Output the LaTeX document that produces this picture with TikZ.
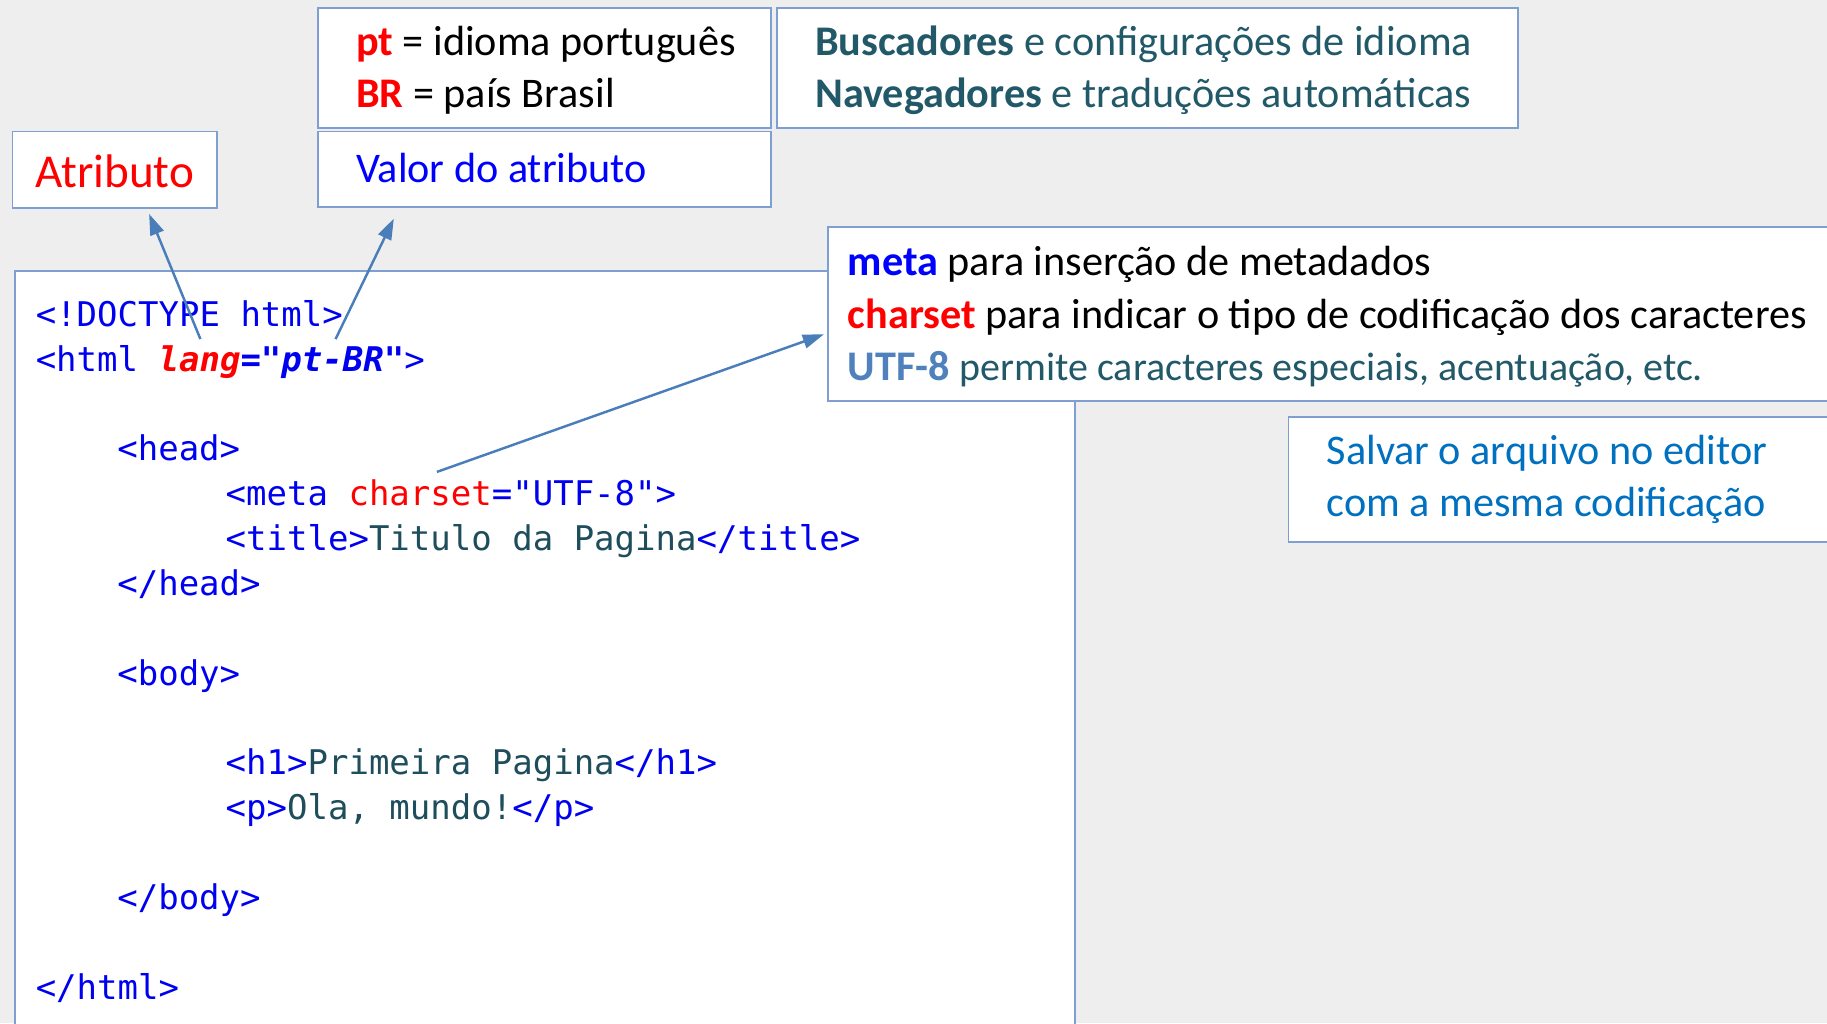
\documentclass[tikz,border=0pt]{standalone}
\usepackage{fontspec}
\setmainfont{Carlito}
\setmonofont{DejaVu Sans Mono}
\usetikzlibrary{arrows.meta}
\usetikzlibrary{calc}
\definecolor{bgcol}{HTML}{EEEEEE}
\definecolor{boxline}{HTML}{7F9FD3}
\definecolor{arrowcol}{HTML}{4A7EBB}
\definecolor{teal}{HTML}{215968}
\definecolor{codeblue}{HTML}{0000F0}
\definecolor{codetext}{HTML}{1E4D5C}
\definecolor{utfblue}{HTML}{4F81BD}
\definecolor{salvarblue}{HTML}{0070C0}
\tikzset{
box/.style={draw=boxline, line width=0.45pt, fill=white, inner sep=0pt, anchor=north west},
note/.style={anchor=west, align=left, inner sep=0pt, font=\fontsize{10.3}{12.8}\selectfont},
code/.style={anchor=base west, inner sep=0pt, text=codeblue, font=\ttfamily\fontsize{8.3}{10}\selectfont},
pointer/.style={draw=arrowcol, line width=0.6pt, -{Triangle[length=0.18cm,width=0.12cm]}}}

\begin{document}
\begin{tikzpicture}[x=0.01cm, y=-0.01cm]

            \useasboundingbox[fill=bgcol] (0,0) rectangle (1568,878);

            % code window
            \node[box, minimum width=9.09cm, minimum height=7cm] (code) at (12,232) {};
            \node[code] (doctype) at (30,280) {<!DOCTYPE html>};
            \node[code] (html) at (30,318.5) {<html \textbf{\textit{\textcolor{red}{lang}="pt-BR"}}>};
            \node[code] (head) at (100,395.5) {<head>};
            \node[code] (meta) at (193,434) {<meta \textcolor{red}{charset}="UTF-8">};
            \node[code] (title) at (193,472.5) {<title>\textcolor{codetext}{Titulo da Pagina}</title>};
            \node[code] (headend) at (100,511) {</head>};
            \node[code] (body) at (100,588) {<body>};
            \node[code] (hone) at (193,665) {<h1>\textcolor{codetext}{Primeira Pagina}</h1>};
            \node[code] (para) at (193,703.5) {<p>\textcolor{codetext}{Ola, mundo!}</p>};
            \node[code] (bodyend) at (100,780.5) {</body>};
            \node[code] (htmlend) at (30,857.5) {</html>};

            % callouts
            \node[box, minimum width=1.75cm, minimum height=0.66cm] (atrib) at (10,112) {};
            \node[note, anchor=center, text=red, font=\fontsize{11.5}{13}\selectfont] (atribtxt) at ($(atrib.center)+(0,1)$) {Atributo};

            \node[box, minimum width=3.89cm, minimum height=0.65cm] (valor) at (272,112) {};
            \node[note, text=blue] (valortxt) at ($(valor.west)+(33,-1)$) {Valor do atributo};

            \node[box, minimum width=3.89cm, minimum height=1.03cm] (lang) at (272,6) {};
            \node[note] (langtxt) at ($(lang.west)+(33,2)$) {\textcolor{red}{\textbf{pt}} = idioma português\\\textcolor{red}{\textbf{BR}} = país Brasil};

            \node[box, minimum width=6.36cm, minimum height=1.03cm] (uses) at (666,6) {};
            \node[note, text=teal] (usestxt) at ($(uses.west)+(33,2)$) {\textbf{Buscadores} e configurações de idioma\\\textbf{Navegadores} e traduções automáticas};

            \node[box, minimum width=8.8cm, minimum height=1.49cm] (metabox) at (710,194) {};
            \node[note] (metatxt) at ($(metabox.west)+(17,2.5)$) {\textcolor{blue}{\textbf{meta}} para inserção de metadados\\\textcolor{red}{\textbf{charset}} para indicar o tipo de codificação dos caracteres\\\textcolor{utfblue}{\textbf{UTF-8}} \textcolor{teal}{\fontsize{9.75}{12.8}\selectfont permite caracteres especiais, acentuação, etc.}};

            \node[box, minimum width=4.8cm, minimum height=1.07cm] (salvar) at (1105,357) {};
            \node[note, text=salvarblue] (salvartxt) at ($(salvar.west)+(33,0)$) {Salvar o arquivo no editor\\com a mesma codificação};

            % pointers
            \coordinate (langattr) at (172,291);
            \coordinate (langval) at (288,291);
            \coordinate (charsetattr) at (375,405);
            \draw[pointer] (langattr) -- ($(atrib.south west)+(118,4)$);
            \draw[pointer] (langval) -- ($(valor.south west)+(66,9)$);
            \draw[pointer] (charsetattr) -- ($(metabox.north west)+(-3,93)$);

\end{tikzpicture}
\end{document}
